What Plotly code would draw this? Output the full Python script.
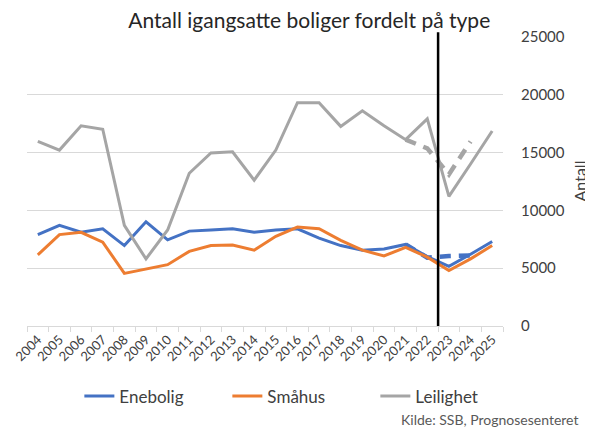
import plotly.graph_objects as go

years = [str(y) for y in range(2004, 2026)]

enebolig = [7900, 8700, 8100, 8400, 6950, 9000, 7450, 8200, 8300, 8400, 8100, 8300, 8400,
            7600, 6950, 6550, 6650, 7050, 6000, 5150, 6200, 7300]
smahus = [6150, 7900, 8100, 7250, 4550, 4900, 5300, 6450, 6950, 7000, 6550, 7750, 8550,
          8400, 7400, 6550, 6050, 6800, 5950, 4800, 5800, 6950]
leilighet = [15950, 15200, 17300, 17000, 8700, 5800, 8300, 13200, 14950, 15050, 12600, 15200, 19300,
             19300, 17250, 18600, 17300, 16100, 17900, 11200, 14000, 16850]

# Earlier forecast (dashed, not in legend)
prog_years = ["2021", "2022", "2023", "2024"]
enebolig_prog = [7050, 5900, 6050, 6100]
leilighet_prog = [16100, 15350, 13100, 15950]

y_ticks = [0, 5000, 10000, 15000, 20000, 25000]

BLUE = "#4472C4"
ORANGE = "#ED7D31"
GRAY = "#A5A5A5"
FONT = "Lato"
TXT = "#404040"

fig = go.Figure()
fig.add_trace(go.Scatter(x=prog_years, y=leilighet_prog, mode="lines", showlegend=False,
                         line=dict(color=GRAY, width=4.5, dash="11px,8px")))
fig.add_trace(go.Scatter(x=prog_years, y=enebolig_prog, mode="lines", showlegend=False,
                         line=dict(color=BLUE, width=4.5, dash="11px,8px")))
fig.add_trace(go.Scatter(x=years, y=enebolig, mode="lines", name="Enebolig",
                         line=dict(color=BLUE, width=3)))
fig.add_trace(go.Scatter(x=years, y=smahus, mode="lines", name="Småhus",
                         line=dict(color=ORANGE, width=3)))
fig.add_trace(go.Scatter(x=years, y=leilighet, mode="lines", name="Leilighet",
                         line=dict(color=GRAY, width=3)))

fig.add_shape(type="line", xref="x", yref="paper", x0=18.5, x1=18.5, y0=0, y1=1.013,
              line=dict(color="black", width=2.5))

fig.add_annotation(text="Kilde: SSB, Prognosesenteret", xref="paper", yref="paper",
                   x=1.162, y=-0.322, xanchor="right", yanchor="middle", showarrow=False,
                   font=dict(family=FONT, size=14, color="#595959"))

fig.update_layout(
    width=585, height=422,
    margin=dict(l=19, r=90, t=28, b=104, autoexpand=False),
    paper_bgcolor="white", plot_bgcolor="white",
    font=dict(family=FONT, size=14, color=TXT),
    title=dict(text="Antall igangsatte boliger fordelt på type", x=0.515, xanchor="center",
               y=0.971, yanchor="middle", font=dict(family=FONT, size=21, color="#262626")),
    showlegend=True,
    legend=dict(orientation="h", x=0.11, xanchor="left", y=-0.243, yanchor="middle",
                font=dict(family=FONT, size=17, color=TXT), traceorder="normal",
                entrywidth=103, entrywidthmode="pixels"),
    xaxis=dict(type="category", categoryorder="array", categoryarray=years, automargin=False,
               range=[-0.5, 21.5], tickson="boundaries", ticks="outside", ticklen=5,
               tickcolor="#D9D9D9", showline=True, linecolor="#D9D9D9", linewidth=1,
               showgrid=False, tickangle=-45, tickfont=dict(size=13, color=TXT)),
    yaxis=dict(side="right", range=[0, 25060], tickvals=y_ticks, ticktext=[str(v) for v in y_ticks],
               automargin=False,
               showgrid=True, gridcolor="#D9D9D9", gridwidth=1, zeroline=False, showline=False,
               ticks="", ticklabelstandoff=17, tickfont=dict(size=15, color=TXT),
               title=dict(text="Antall", font=dict(size=16, color=TXT), standoff=11)),
)

fig.write_html("out.html")
